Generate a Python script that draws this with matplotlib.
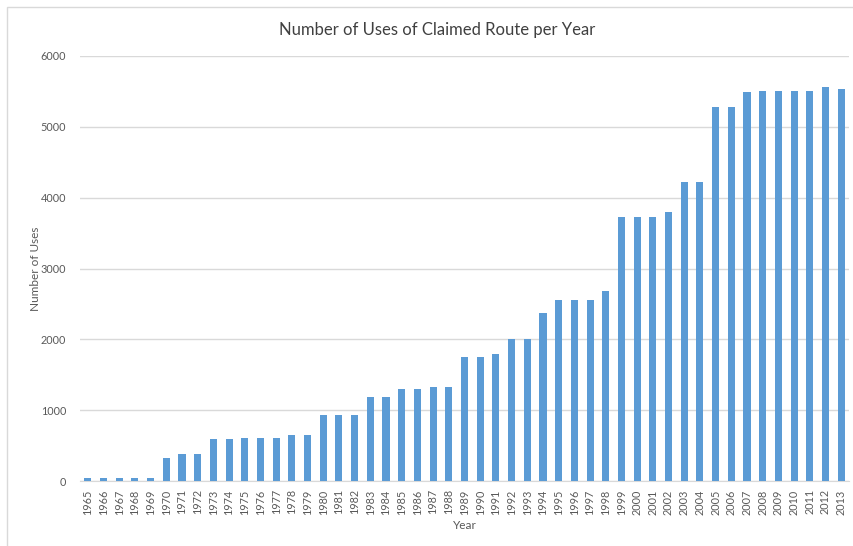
import matplotlib
matplotlib.use("Agg")
import matplotlib.pyplot as plt
from matplotlib.patches import Rectangle

# data
years = [str(y) for y in range(1965, 2014)]
uses = [40, 40, 40, 40, 40,
        320, 380, 380, 600, 600, 610, 610, 610, 650, 650,
        925, 925, 925, 1180, 1180, 1295, 1295, 1330, 1330,
        1750, 1750, 1800, 2000, 2000, 2370, 2560, 2560, 2560, 2680,
        3730, 3730, 3730, 3800, 4220, 4225,
        5280, 5280, 5490, 5510, 5510, 5510, 5510, 5560, 5540]
yticks = [0, 1000, 2000, 3000, 4000, 5000, 6000]

plt.rcParams['font.family'] = ['Lato', 'DejaVu Sans']

fig = plt.figure(figsize=(8.54, 5.46), dpi=100)
ax = fig.add_axes([80/854, 1-481/546, 769/854, 425/546])

x = range(len(years))
ax.bar(x, uses, width=0.45, color='#5B9BD5', zorder=3)

ax.set_xlim(-0.5, len(years) - 0.5)
ax.set_ylim(0, 6000)
ax.set_yticks(yticks)
ax.set_xticks(list(x))
ax.set_xticklabels(years, rotation=90)
ax.tick_params(axis='both', length=0, labelsize=7.8, colors='#595959', pad=6)
ax.tick_params(axis='y', pad=10)
ax.grid(axis='y', color='#D9D9D9', linewidth=1, zorder=0)
for s in ['top', 'right', 'left']:
    ax.spines[s].set_visible(False)
ax.spines['bottom'].set_color('#D9D9D9')

fig.text(437/854, 1-30/546, 'Number of Uses of Claimed Route per Year',
         fontsize=12, color='#404040', ha='center', va='center')
ax.set_xlabel('Year', fontsize=8.5, color='#595959', labelpad=4)
ax.set_ylabel('Number of Uses', fontsize=8.5, color='#595959', labelpad=0)

# light chart border like the Excel chart area
fig.patches.append(Rectangle((7/854, -0.1), 1.2, 1 - 7/546 + 0.1,
                             transform=fig.transFigure, fill=False,
                             edgecolor='#D9D9D9', linewidth=1))

fig.savefig('out.png', dpi=100)
